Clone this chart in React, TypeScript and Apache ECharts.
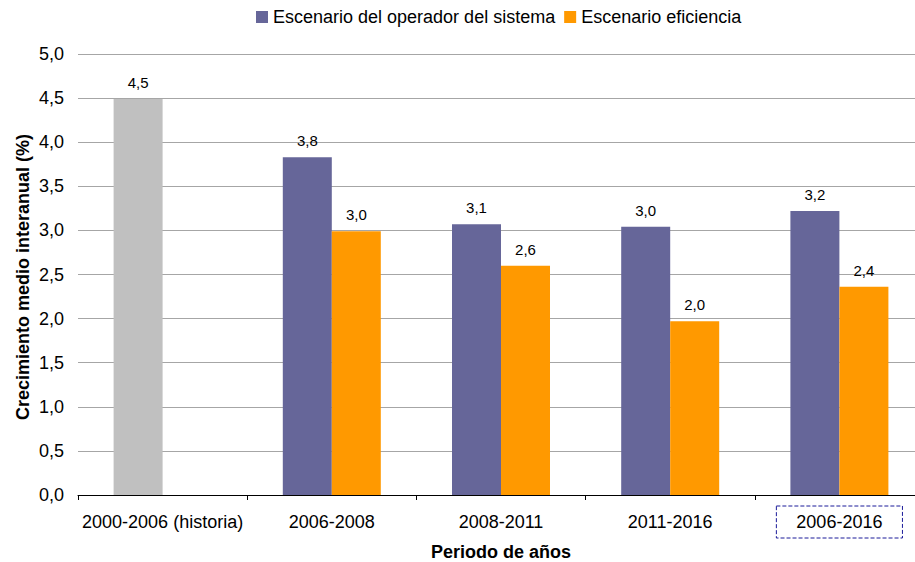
import React, { useEffect, useRef } from "react";
import * as echarts from "echarts";

const categories = ["2000-2006 (historia)", "2006-2008", "2008-2011", "2011-2016", "2006-2016"];
const operadorValues = [4.49, 3.83, 3.07, 3.04, 3.22];
const eficienciaValues: (number | null)[] = [null, 2.99, 2.6, 1.97, 2.36];
const yTicks = { min: 0, max: 5, interval: 0.5 };
const seriesNames = ["Escenario del operador del sistema", "Escenario eficiencia"];
const highlightedCategory = "2006-2016";

const fmt = (v: number) => v.toFixed(1).replace(".", ",");
const FONT = "Liberation Sans, Arial, sans-serif";

export default function App() {
  const ref = useRef<HTMLDivElement>(null);
  useEffect(() => {
    if (!ref.current) return;
    const chart = echarts.init(ref.current, null, { renderer: "svg" });
    chart.setOption({
      animation: false,
      textStyle: { fontFamily: FONT, color: "#000" },
      legend: {
        top: 8,
        left: 256,
        padding: 0,
        itemWidth: 12,
        itemHeight: 12,
        itemGap: 9,
        icon: "rect",
        textStyle: { fontSize: 18, color: "#000", fontFamily: FONT },
        data: seriesNames,
      },
      grid: { left: 78, right: 6, top: 54, bottom: 67 },
      xAxis: {
        type: "category",
        data: categories,
        axisLine: { lineStyle: { color: "#000", width: 1 } },
        axisTick: { show: true, length: 5, lineStyle: { color: "#000" } },
        axisLabel: {
          interval: 0,
          fontSize: 18,
          color: "#000",
          margin: 11,
          fontFamily: FONT,
          formatter: (v: string) => (v === highlightedCategory ? "{box|" + v + "}" : "{n|" + v + "}"),
          rich: {
            n: {
              fontSize: 18,
              color: "#000",
              fontFamily: FONT,
              padding: [7, 20, 7, 20],
            },
            box: {
              fontSize: 18,
              color: "#000",
              fontFamily: FONT,
              borderColor: "#1a1a99",
              borderWidth: 1,
              borderType: "dashed",
              padding: [7, 20, 7, 20],
            },
          },
        },
      },
      yAxis: {
        type: "value",
        min: yTicks.min,
        max: yTicks.max,
        interval: yTicks.interval,
        axisLine: { show: false },
        axisTick: { show: false },
        splitLine: { lineStyle: { color: "#a6a6a6", width: 1 } },
        axisLabel: {
          fontSize: 18,
          color: "#000",
          margin: 14,
          fontFamily: FONT,
          formatter: (v: number) => fmt(v),
        },
      },
      graphic: [
        {
          type: "text",
          x: 23,
          y: 277,
          rotation: Math.PI / 2,
          style: {
            text: "Crecimiento medio interanual (%)",
            fontSize: 18,
            fontWeight: "bold",
            fill: "#000",
            fontFamily: FONT,
            align: "center",
            verticalAlign: "middle",
          },
        },
        {
          type: "text",
          x: 501,
          y: 552,
          style: {
            text: "Periodo de años",
            fontSize: 18,
            fontWeight: "bold",
            fill: "#000",
            fontFamily: FONT,
            align: "center",
            verticalAlign: "middle",
          },
        },
      ],
      series: [
        {
          name: seriesNames[0],
          type: "bar",
          barWidth: 49,
          barGap: "0%",
          itemStyle: { color: "#666699" },
          label: {
            show: true,
            position: "top",
            distance: 9,
            fontSize: 15,
            color: "#000",
            fontFamily: FONT,
            formatter: (p: any) => fmt(p.value),
          },
          data: operadorValues.map((v, i) =>
            i === 0 ? { value: v, itemStyle: { color: "#c0c0c0" } } : v
          ),
        },
        {
          name: seriesNames[1],
          type: "bar",
          barWidth: 49,
          barGap: "0%",
          itemStyle: { color: "#ff9900" },
          label: {
            show: true,
            position: "top",
            distance: 9,
            fontSize: 15,
            color: "#000",
            fontFamily: FONT,
            formatter: (p: any) => (p.value == null ? "" : fmt(p.value)),
          },
          data: eficienciaValues,
        },
      ],
    });
    return () => chart.dispose();
  }, []);
  return (
    <div style={{ position: "absolute", left: 0, top: 0, width: 915, height: 562, overflow: "hidden" }}>
      <div ref={ref} style={{ width: 930, height: 562 }} />
    </div>
  );
}
